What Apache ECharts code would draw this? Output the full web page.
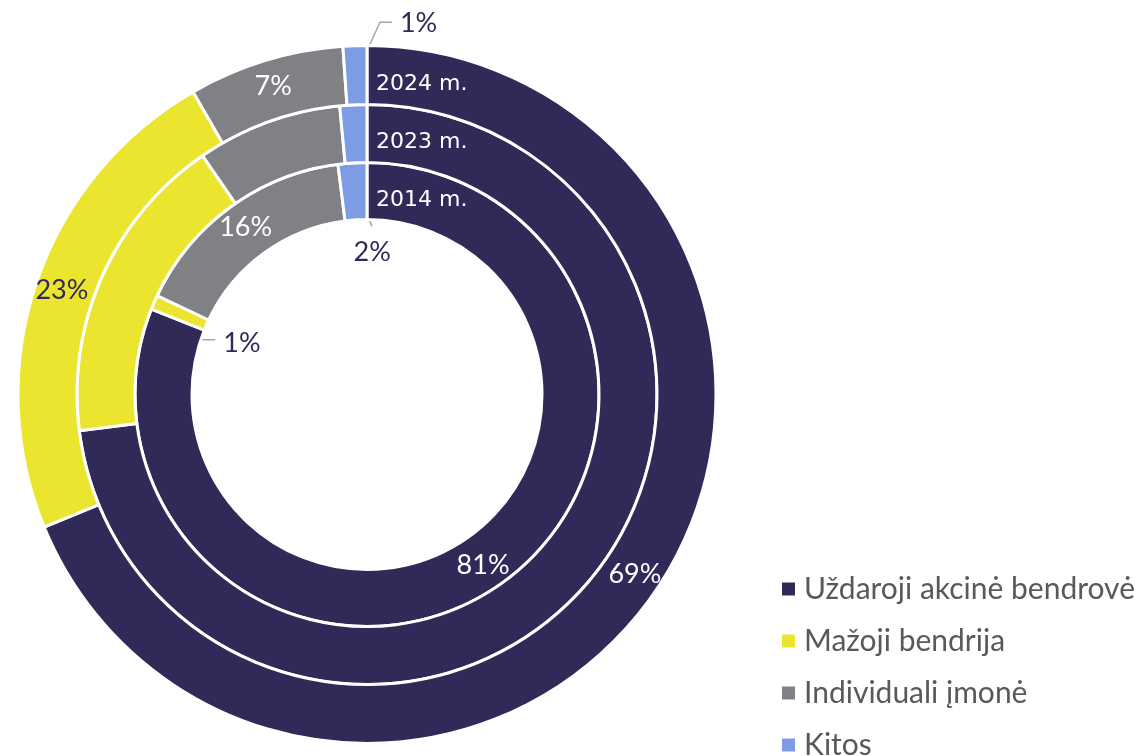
<!DOCTYPE html>
<html>
<head>
<meta charset="utf-8">
<script src="https://cdn.jsdelivr.net/npm/echarts@6/dist/echarts.min.js"></script>
<style>html,body{margin:0;padding:0;background:#fff}#c{width:1138px;height:756px}</style>
</head>
<body>
<div id="c"></div>
<script>
// ---- data ----
const categories = ['Uždaroji akcinė bendrovė', 'Mažoji bendrija', 'Individuali įmonė', 'Kitos'];
const ringNames = ['2014 m.', '2023 m.', '2024 m.'];
const values2014 = [81, 1, 16, 2];
const values2023 = [73, 17.4, 8.1, 1.5];
const values2024 = [68.8, 22.9, 7.2, 1.1];
const colors = ['#312a58', '#ece530', '#808185', '#7d9ce4'];

// ---- layout ----
const CX = 367, CY = 394.5;
const RADII = [[175, 232], [232, 290], [290, 349]];
const DARK = '#2f2a58';
const pctFont = 'Lato';

function midAngle(values, idx) {
  const total = values.reduce((a, b) => a + b, 0);
  let s = 0;
  for (let i = 0; i < idx; i++) s += values[i];
  return (s + values[idx] / 2) / total * 2 * Math.PI; // clockwise from top
}
function polar(a, r) { return [CX + r * Math.sin(a), CY - r * Math.cos(a)]; }

// leader-line labels: elbow offset, horizontal run, label offset
const leaders = {
  '0-1': { elbow: [20, 26], run: 15, align: 'left', lab: [8, 4] },
  '0-3': { elbow: [18, 35], run: 0, align: 'center', lab: [0, 26] },
  '2-3': { elbow: [24, -53], run: 12, align: 'left', lab: [8, 1] }
};

function makeSeries(values, ringIdx, showLabels) {
  const [ri, ro] = RADII[ringIdx];
  const data = values.map((v, i) => {
    const key = ringIdx + '-' + i;
    const item = { name: categories[i], value: v, itemStyle: { color: colors[i] } };
    if (!showLabels) {
      item.label = { show: false };
    } else if (leaders[key]) {
      item.label = { show: true, position: 'outside', color: DARK };
      item.labelLine = { show: true, lineStyle: { color: '#a6a6a6', width: 1.5 } };
    } else {
      item.label = { show: true, position: 'inside', color: i === 1 ? DARK : '#ffffff' };
      item.labelLine = { show: false };
    }
    return item;
  });
  return {
    type: 'pie',
    name: ringNames[ringIdx],
    center: [CX, CY],
    radius: [ri, ro],
    startAngle: 90,
    clockwise: true,
    avoidLabelOverlap: false,
    silent: true,
    itemStyle: { borderColor: '#ffffff', borderWidth: 3 },
    label: {
      formatter: p => Math.round(p.value) + '%',
      fontFamily: pctFont, fontSize: 27, color: '#ffffff'
    },
    labelLine: { show: false },
    labelLayout: function (params) {
      const key = ringIdx + '-' + params.dataIndex;
      const L = leaders[key];
      if (!L) return {};
      const a = midAngle(values, params.dataIndex);
      const s = polar(a, (ri + ro) / 2);
      const e = [s[0] + L.elbow[0], s[1] + L.elbow[1]];
      const f = [e[0] + L.run, e[1]];
      return {
        x: f[0] + L.lab[0], y: f[1] + L.lab[1],
        align: L.align, verticalAlign: 'middle',
        labelLinePoints: [s, e, f]
      };
    },
    data: data
  };
}

const ringSeries = [
  makeSeries(values2014, 0, true),
  makeSeries(values2023, 1, false),
  makeSeries(values2024, 2, true)
];

const ringTexts = ringNames.map((n, i) => ({
  type: 'text',
  x: CX + 9,
  y: CY - (RADII[i][0] + RADII[i][1]) / 2 + 9,
  z: 100,
  style: {
    text: n, fill: '#ffffff', font: '22px "DejaVu Sans"',
    textVerticalAlign: 'middle', verticalAlign: 'middle'
  }
}));

const chart = echarts.init(document.getElementById('c'));
chart.setOption({
  animation: false,
  backgroundColor: '#ffffff',
  legend: {
    orient: 'vertical',
    left: 780,
    top: 574,
    height: 240,
    padding: 0,
    itemWidth: 15,
    itemHeight: 15,
    itemGap: 22,
    icon: 'rect',
    selectedMode: false,
    data: categories,
    textStyle: { fontFamily: pctFont, fontSize: 30, color: '#595959', lineHeight: 30, padding: [0, 0, 0, 3] }
  },
  graphic: ringTexts,
  series: ringSeries
});
</script>
</body>
</html>
